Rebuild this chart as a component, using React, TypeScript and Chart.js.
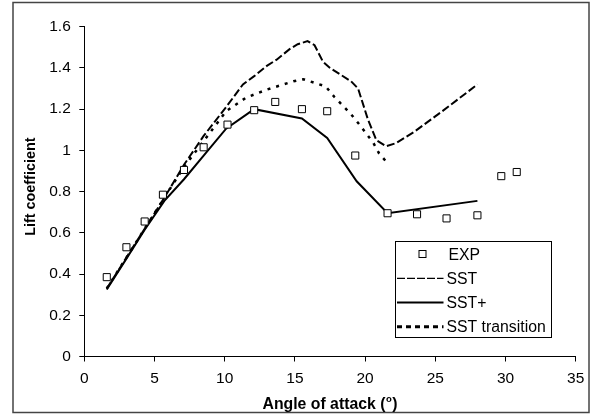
import React, { useEffect, useRef } from "react";
import { Chart, registerables } from "chart.js";

Chart.register(...registerables);

const expAngle = [1.6, 3.0, 4.3, 5.6, 7.1, 8.5, 10.2, 12.1, 13.6, 15.5, 17.3, 19.3, 21.6, 23.7, 25.8, 28.0, 29.7, 30.8];
const expCl = [0.385, 0.53, 0.655, 0.785, 0.905, 1.015, 1.125, 1.195, 1.235, 1.2, 1.19, 0.975, 0.695, 0.69, 0.67, 0.685, 0.875, 0.895];

const sstAngle = [1.6, 3.0, 4.3, 5.7, 7.1, 8.5, 10.1, 11.3, 12.1, 13.0, 13.7, 14.6, 15.2, 15.9, 16.4, 17.0, 17.5, 19.0, 19.5, 20.2, 20.8, 21.5, 22.2, 23.5, 25.5, 28.0];
const sstCl = [0.33, 0.48, 0.62, 0.77, 0.93, 1.07, 1.21, 1.32, 1.36, 1.41, 1.44, 1.49, 1.515, 1.53, 1.51, 1.43, 1.4, 1.335, 1.3, 1.15, 1.05, 1.02, 1.035, 1.09, 1.19, 1.32];

const sstPlusAngle = [1.6, 3.0, 4.3, 5.7, 7.1, 8.5, 10.1, 12.1, 15.5, 17.3, 19.4, 21.6, 28.0];
const sstPlusCl = [0.325, 0.475, 0.615, 0.755, 0.86, 0.975, 1.105, 1.2, 1.155, 1.06, 0.85, 0.695, 0.755];

const sstTrAngle = [1.6, 3.0, 4.3, 5.7, 7.1, 8.5, 10.1, 11.5, 13.0, 14.9, 15.6, 17.2, 17.8, 19.0, 19.6, 20.1, 20.6, 21.0, 21.7];
const sstTrCl = [0.33, 0.48, 0.62, 0.77, 0.92, 1.045, 1.19, 1.255, 1.295, 1.335, 1.345, 1.31, 1.26, 1.175, 1.125, 1.08, 1.035, 0.985, 0.93];

const xTicks = [0, 5, 10, 15, 20, 25, 30, 35];
const yTicks = [0, 0.2, 0.4, 0.6, 0.8, 1, 1.2, 1.4, 1.6];

const seriesNames = ["EXP", "SST", "SST+", "SST transition"];

const FONT = "Liberation Sans, Arial, sans-serif";

const toPts = (xs: number[], ys: number[]) => xs.map((x, i) => ({ x, y: ys[i] }));

const decorPlugin = {
  id: "decor",
  afterDraw(chart: any) {
    const ctx = chart.ctx;
    const area = chart.chartArea;
    ctx.save();
    // outer border
    ctx.strokeStyle = "#444";
    ctx.lineWidth = 1.5;
    ctx.strokeRect(13, 2.5, 576, 410);

    // axis titles
    ctx.fillStyle = "#000";
    const tf = `bold 15.8px ${FONT}`;
    const sf = `bold 9.5px ${FONT}`;
    const main = "Angle of attack (";
    ctx.font = tf;
    const wMain = ctx.measureText(main).width;
    ctx.font = sf;
    const wSup = ctx.measureText("o").width;
    ctx.font = tf;
    const wEnd = ctx.measureText(")").width;
    const total = wMain + wSup + 1 + wEnd;
    const cx = (area.left + area.right) / 2;
    const x0 = cx - total / 2;
    const base = 409;
    ctx.textBaseline = "alphabetic";
    ctx.textAlign = "left";
    ctx.fillText(main, x0, base);
    ctx.font = sf;
    ctx.fillText("o", x0 + wMain + 0.5, base - 7);
    ctx.font = tf;
    ctx.fillText(")", x0 + wMain + wSup + 1, base);

    ctx.save();
    ctx.translate(35, 186.7);
    ctx.rotate(-Math.PI / 2);
    ctx.textAlign = "center";
    ctx.font = `bold 14.4px ${FONT}`;
    ctx.fillText("Lift coefficient", 0, 0);
    ctx.restore();

    // legend
    const L = 395.5, T = 241.5, R = 551.5, B = 337.5;
    ctx.fillStyle = "#fff";
    ctx.fillRect(L, T, R - L, B - T);
    ctx.strokeStyle = "#000";
    ctx.lineWidth = 1;
    ctx.strokeRect(L, T, R - L, B - T);
    const rows = [254, 278.3, 302.5, 326.7];
    ctx.font = `15.8px ${FONT}`;
    ctx.fillStyle = "#000";
    ctx.textAlign = "left";
    ctx.textBaseline = "alphabetic";
    // EXP
    ctx.strokeStyle = "#000";
    ctx.lineWidth = 1;
    ctx.strokeRect(419, rows[0] - 3.5, 7, 7);
    ctx.fillText(seriesNames[0], 448.5, rows[0] + 5.6);
    const styles = [
      { dash: [8, 2], w: 1.2 },
      { dash: [], w: 2 },
      { dash: [5, 4], w: 3 },
    ];
    for (let i = 0; i < 3; i++) {
      const y = rows[i + 1];
      ctx.beginPath();
      ctx.setLineDash(styles[i].dash);
      ctx.lineWidth = styles[i].w;
      ctx.moveTo(397, y);
      ctx.lineTo(443.5, y);
      ctx.stroke();
      ctx.setLineDash([]);
      ctx.fillText(seriesNames[i + 1], 446.5, y + 5.6);
    }
    ctx.restore();
  },
};

export default function App() {
  const ref = useRef<HTMLCanvasElement | null>(null);
  useEffect(() => {
    if (!ref.current) return;
    const chart = new Chart(ref.current, {
      type: "scatter",
      data: {
        datasets: [
          {
            label: seriesNames[0],
            data: toPts(expAngle, expCl),
            showLine: false,
            pointStyle: "rect",
            pointRadius: 5,
            pointBorderWidth: 1,
            pointBorderColor: "#000",
            pointBackgroundColor: "#fff",
          },
          {
            label: seriesNames[1],
            data: toPts(sstAngle, sstCl),
            showLine: true,
            borderColor: "#000",
            borderWidth: 2,
            borderDash: [8, 3],
            pointRadius: 0,
            tension: 0,
          },
          {
            label: seriesNames[2],
            data: toPts(sstPlusAngle, sstPlusCl),
            showLine: true,
            borderColor: "#000",
            borderWidth: 2,
            pointRadius: 0,
            tension: 0,
          },
          {
            label: seriesNames[3],
            data: toPts(sstTrAngle, sstTrCl),
            showLine: true,
            borderColor: "#000",
            borderWidth: 2.5,
            borderDash: [3, 6],
            pointRadius: 0,
            tension: 0,
          },
        ],
      },
      options: {
        animation: false,
        responsive: true,
        maintainAspectRatio: false,
        layout: { padding: { left: 0, top: 26.7, right: 17.3, bottom: 0 } },
        plugins: { legend: { display: false }, tooltip: { enabled: false } },
        scales: {
          x: {
            type: "linear",
            min: 0,
            max: 35,
            afterFit: (s: any) => { s.height = 57.5; },
            afterBuildTicks: (s: any) => { s.ticks = xTicks.map((v) => ({ value: v })); },
            ticks: { color: "#000", font: { family: FONT, size: 15.5 }, padding: 8.4, maxRotation: 0 },
            grid: { display: true, drawOnChartArea: false, drawTicks: true, tickLength: 5, color: "#000" },
            border: { display: true, color: "#000", width: 1 },
          },
          y: {
            type: "linear",
            min: 0,
            max: 1.6,
            afterFit: (s: any) => { s.width = 84.3; },
            afterBuildTicks: (s: any) => { s.ticks = yTicks.map((v) => ({ value: v })); },
            ticks: {
              color: "#000",
              font: { family: FONT, size: 15.5 },
              padding: 8.5,
              callback: (v: any) => String(Number(Number(v).toFixed(1))),
            },
            grid: { display: true, drawOnChartArea: false, drawTicks: true, tickLength: 5, color: "#000" },
            border: { display: true, color: "#000", width: 1 },
          },
        },
      },
      plugins: [decorPlugin],
    });
    return () => chart.destroy();
  }, []);
  return (
    <div style={{ position: "absolute", left: 0, top: 0, width: 593, height: 414, background: "#fff" }}>
      <canvas ref={ref} />
    </div>
  );
}
